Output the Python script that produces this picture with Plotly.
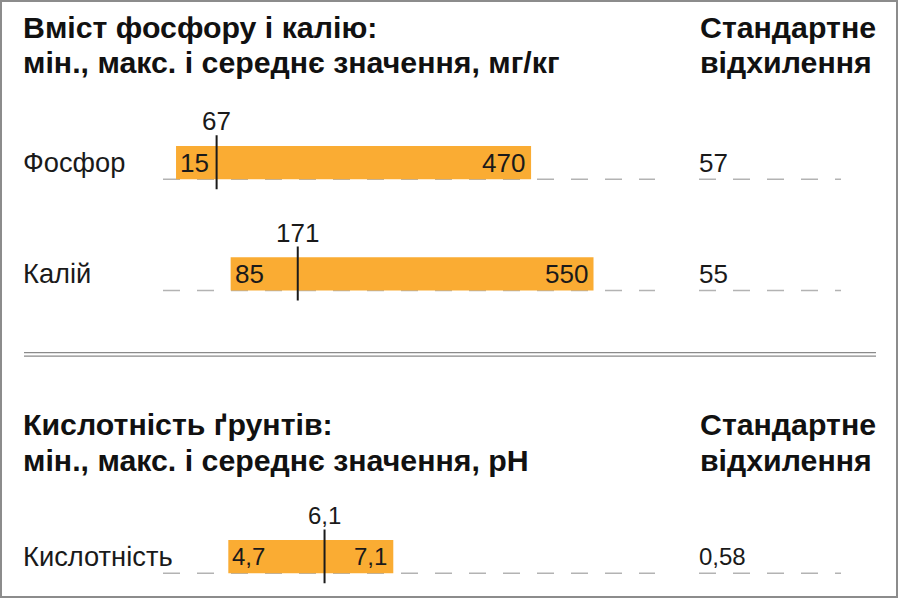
import plotly.graph_objects as go

W, H = 900, 599

# phosphorus / potassium, mg/kg
nutrients = ["Фосфор", "Калій"]
nutr_min = [15, 85]
nutr_max = [470, 550]
nutr_mean = [67, 171]
nutr_std = [57, 55]

# soil acidity, pH
acid = ["Кислотність"]
acid_min = [4.7]
acid_max = [7.1]
acid_mean = [6.1]
acid_std = [0.58]

title_top = ["Вміст фосфору і калію:", "мін., макс. і середнє значення, мг/кг"]
title_bot = ["Кислотність ґрунтів:", "мін., макс. і середнє значення, pH"]
std_head = ["Стандартне", "відхилення"]

ORANGE = "#FAAC33"
INK = "#1a1a1a"
FONT = "Liberation Sans, Arial, sans-serif"


def px(x):
    return x / W


def py(y):
    return 1 - y / H


def fmt(v):
    return str(v).replace(".", ",")


fig = go.Figure()
annos = []
shapes = []

panels = [
    dict(names=nutrients, mn=nutr_min, mx=nutr_max, mean=nutr_mean, std=nutr_std,
         xa="x", ya="y", fs=26),
    dict(names=acid, mn=acid_min, mx=acid_max, mean=acid_mean, std=acid_std,
         xa="x2", ya="y2", fs=24),
]

for p in panels:
    ys = list(range(len(p["names"])))
    fig.add_trace(go.Bar(
        y=ys, x=[b - a for a, b in zip(p["mn"], p["mx"])], base=p["mn"],
        orientation="h", width=0.3, marker=dict(color=ORANGE, line=dict(width=0)),
        xaxis=p["xa"], yaxis=p["ya"], hoverinfo="skip", showlegend=False))
    lx, ly = [], []
    for i, m in zip(ys, p["mean"]):
        lx += [m, m, None]
        ly += [i - 0.245, i + 0.24, None]
    fig.add_trace(go.Scatter(
        x=lx, y=ly, mode="lines", line=dict(color=INK, width=2),
        xaxis=p["xa"], yaxis=p["ya"], hoverinfo="skip", showlegend=False))

    f = dict(family=FONT, size=p["fs"], color=INK)
    flab = dict(family=FONT, size=27.3, color=INK)
    for i in ys:
        name = p["names"][i]
        annos.append(dict(text=name, x=px(21), xref="paper", y=i, yref=p["ya"],
                          xanchor="left", yanchor="middle", showarrow=False, font=flab))
        annos.append(dict(text=fmt(p["mn"][i]), x=p["mn"][i], xref=p["xa"], y=i, yref=p["ya"],
                          xanchor="left", yanchor="middle", xshift=2, showarrow=False, font=f))
        annos.append(dict(text=fmt(p["mx"][i]), x=p["mx"][i], xref=p["xa"], y=i, yref=p["ya"],
                          xanchor="right", yanchor="middle", xshift=-4, showarrow=False, font=f))
        annos.append(dict(text=fmt(p["mean"][i]), x=p["mean"][i], xref=p["xa"], y=i - 0.37,
                          yref=p["ya"], xanchor="center", yanchor="middle", showarrow=False, font=f))
        annos.append(dict(text=fmt(p["std"][i]), x=px(697), xref="paper", y=i, yref=p["ya"],
                          xanchor="left", yanchor="middle", showarrow=False, font=f))
        # dashed baselines under the bar track and under the std column
        base_y = i + 0.15
        shapes.append(dict(type="line", xref=p["xa"] + " domain", x0=0, x1=1,
                           yref=p["ya"], y0=base_y, y1=base_y, layer="below",
                           line=dict(color="#b3b3b3", width=1.5, dash="17px,17px")))
        shapes.append(dict(type="line", xref="paper", x0=px(699), x1=px(841),
                           yref=p["ya"], y0=base_y, y1=base_y, layer="below",
                           line=dict(color="#b3b3b3", width=1.5, dash="17px,17px")))

# headings (tight line spacing as in the original, so one annotation per line)
bold = dict(family=FONT, size=30.3, color="#111111")
head_y = [27.0, 62.5]
for y0, lines in [(0, title_top), (397.5, title_bot)]:
    for txt, y in zip(lines, head_y):
        annos.append(dict(text="<b>%s</b>" % txt, x=px(21), y=py(y0 + y), xref="paper",
                          yref="paper", xanchor="left", yanchor="middle", showarrow=False,
                          font=bold))
    for txt, y in zip(std_head, head_y):
        annos.append(dict(text="<b>%s</b>" % txt, x=px(698), y=py(y0 + y), xref="paper",
                          yref="paper", xanchor="left", yanchor="middle", showarrow=False,
                          font=bold))

# double separator and frame
for y in [352.7, 356.2]:
    shapes.append(dict(type="line", xref="paper", yref="paper", x0=px(24), x1=px(876),
                       y0=py(y), y1=py(y), line=dict(color="#8a8a8a", width=1.2)))
shapes.append(dict(type="rect", xref="paper", yref="paper", x0=px(1), x1=px(897),
                   y0=py(597), y1=py(1), line=dict(color="#8c8c8c", width=2)))

axis_off = dict(visible=False, showgrid=False, zeroline=False, fixedrange=True)
fig.update_layout(
    width=W, height=H, margin=dict(l=0, r=0, t=0, b=0),
    paper_bgcolor="white", plot_bgcolor="white",
    barmode="overlay", showlegend=False,
    xaxis=dict(axis_off, domain=[px(163), px(655)], range=[-1.7, 628.8]),
    yaxis=dict(axis_off, domain=[py(329.5), py(107)], range=[1.5, -0.5]),
    xaxis2=dict(axis_off, domain=[px(163), px(655)], range=[3.75, 10.907]),
    yaxis2=dict(axis_off, domain=[py(595.5), py(501.2)], range=[0.35, -0.5]),
    annotations=annos, shapes=shapes,
)

fig.write_html("out.html", config={"displayModeBar": False},
               post_script="document.body.style.margin='0';")
